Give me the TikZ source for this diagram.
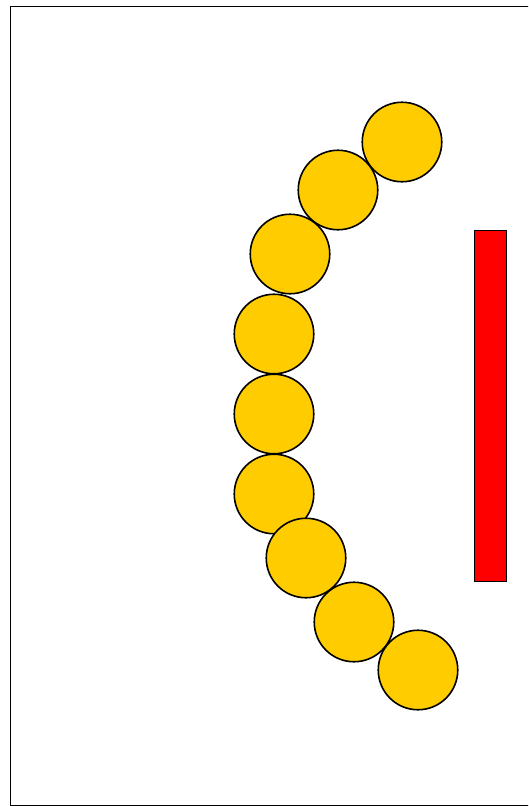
\documentclass[tikz,border=0pt]{standalone}
\begin{document}
\begin{tikzpicture}[x=1pt,y=-1pt,
  bead/.style={circle,draw=black,fill=beadyellow,line width=1.6pt,minimum size=79.5pt,inner sep=0pt},
  bar/.style={draw=black,fill=red,line width=1.5pt}]
\definecolor{beadyellow}{RGB}{255,204,0}
\useasboundingbox (0,0) rectangle (528,806);
\clip (0,0) rectangle (528,806);
\fill[white] (0,0) rectangle (528,806);
\draw[line width=1.8pt] (10.5,6.5) rectangle (560,805.5);
\draw[bar] (474.5,230.5) rectangle (506.5,581.5);
\node[bead] (b2) at (338,190) {};
\node[bead] (b1) at (402,142) {};
\node[bead] (b3) at (290,254) {};
\node[bead] (b4) at (274,334) {};
\node[bead] (b5) at (274,414) {};
\node[bead] (b6) at (274,494) {};
\node[bead] (b7) at (306,558) {};
\node[bead] (b8) at (354,622) {};
\node[bead] (b9) at (418,670) {};
\end{tikzpicture}
\end{document}
